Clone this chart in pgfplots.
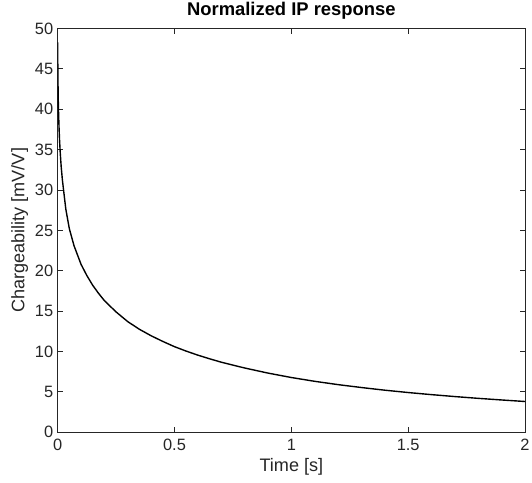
\documentclass[border=0pt]{standalone}
\usepackage{pgfplots}
\pgfplotsset{compat=1.18}
\usepackage{fontspec}
\setmainfont{Liberation Sans}
\definecolor{axgray}{gray}{0.15}
\begin{document}
\begin{tikzpicture}
\useasboundingbox (-58pt,-51pt) rectangle (477pt,434.7pt);
\begin{axis}[
  scale only axis,
  width=470pt, height=406pt,
  xmin=0, xmax=2, ymin=0, ymax=50,
  xtick={0,0.5,1,1.5,2},
  xticklabels={0,0.5,1,1.5,2},
  ytick={0,5,10,15,20,25,30,35,40,45,50},
  yticklabels={0,5,10,15,20,25,30,35,40,45,50},
  tick align=inside,
  major tick length=5pt,
  axis line style={draw=axgray, line width=0.9pt},
  every tick/.style={axgray, line width=0.9pt},
  tick label style={font=\fontsize{16.5}{16.5}\selectfont, text=axgray},
  xticklabel style={yshift=-3pt},
  yticklabel style={xshift=-1pt},
  title={\bfseries Normalized IP response},
  title style={font=\fontsize{18.5}{18.5}\selectfont, yshift=0pt},
  xlabel={Time [s]},
  ylabel={Chargeability [mV/V]},
  label style={font=\fontsize{18.2}{18.2}\selectfont, text=axgray},
  xlabel style={yshift=-1pt},
  ylabel style={yshift=0pt},
]
\addplot[black, line width=1.4pt] coordinates {
(0,48.3) (0.0005,45.8) (0.001,44.2) (0.002,42.0) (0.003,40.5) (0.004,39.4)
(0.006,37.6) (0.008,36.2) (0.011,34.6) (0.015,32.9) (0.02,31.3) (0.026,29.8)
(0.035,27.6) (0.05,25.2) (0.07,23.1) (0.1,20.8) (0.125,19.4) (0.15,18.2)
(0.175,17.2) (0.2,16.3) (0.25,14.9) (0.3,13.7) (0.35,12.75) (0.4,11.95)
(0.45,11.25) (0.5,10.6) (0.55,10.05) (0.6,9.55) (0.65,9.1) (0.7,8.68)
(0.8,7.96) (0.9,7.33) (1.0,6.78) (1.1,6.31) (1.2,5.9) (1.3,5.54)
(1.4,5.21) (1.5,4.92) (1.6,4.66) (1.7,4.42) (1.8,4.2) (1.9,4.0) (2.0,3.81)
};
\end{axis}
\end{tikzpicture}
\end{document}
